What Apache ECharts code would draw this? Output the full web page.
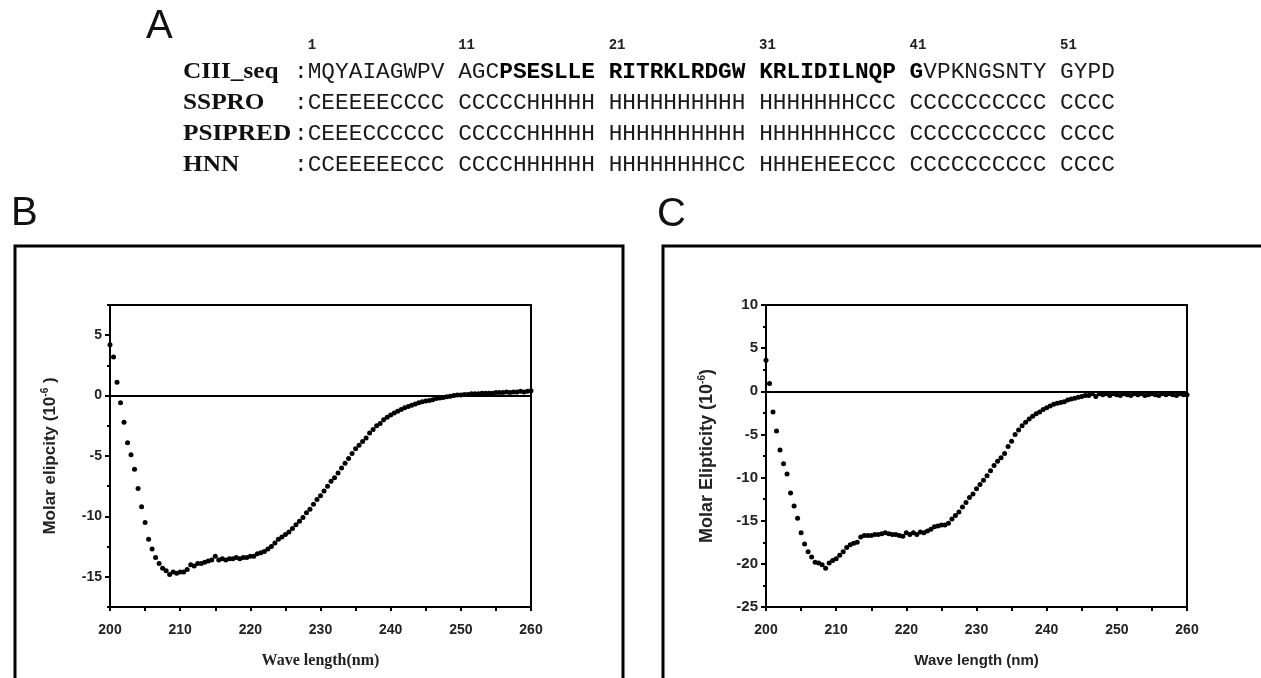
<!DOCTYPE html>
<html><head><meta charset="utf-8">
<script src="https://cdn.jsdelivr.net/npm/echarts@6/dist/echarts.min.js"></script>
<style>html,body{margin:0;padding:0;background:#fff}#c{width:1261px;height:678px}</style>
</head><body><div id="c"></div>
<script>
// ---------- Panel A data ----------
const rowLabels = ['CIII_seq', 'SSPRO', 'PSIPRED', 'HNN'];
const rowGroups = [
  ['MQYAIAGWPV', 'AGCPSESLLE', 'RITRKLRDGW', 'KRLIDILNQP', 'GVPKNGSNTY', 'GYPD'],
  ['CEEEEECCCC', 'CCCCCHHHHH', 'HHHHHHHHHH', 'HHHHHHHCCC', 'CCCCCCCCCC', 'CCCC'],
  ['CEEECCCCCC', 'CCCCCHHHHH', 'HHHHHHHHHH', 'HHHHHHHCCC', 'CCCCCCCCCC', 'CCCC'],
  ['CCEEEEECCC', 'CCCCHHHHHH', 'HHHHHHHHCC', 'HHHEHEECCC', 'CCCCCCCCCC', 'CCCC']
];
const positionLabels = ['1', '11', '21', '31', '41', '51'];
const boldRange = [14, 41]; // residues shown in bold in the sequence row

// ---------- CD spectra data ----------
const wavelengths = [200,200.5,201,201.5,202,202.5,203,203.5,204,204.5,205,205.5,206,206.5,207,207.5,208,208.5,209,209.5,
210,210.5,211,211.5,212,212.5,213,213.5,214,214.5,215,215.5,216,216.5,217,217.5,218,218.5,219,219.5,
220,220.5,221,221.5,222,222.5,223,223.5,224,224.5,225,225.5,226,226.5,227,227.5,228,228.5,229,229.5,
230,230.5,231,231.5,232,232.5,233,233.5,234,234.5,235,235.5,236,236.5,237,237.5,238,238.5,239,239.5,
240,240.5,241,241.5,242,242.5,243,243.5,244,244.5,245,245.5,246,246.5,247,247.5,248,248.5,249,249.5,
250,250.5,251,251.5,252,252.5,253,253.5,254,254.5,255,255.5,256,256.5,257,257.5,258,258.5,259,259.5,260];

const ellipticityB = [4.2,3.2,1.1,-0.6,-2.2,-3.9,-4.9,-6.1,-7.7,-9.2,
-10.5,-11.9,-12.7,-13.4,-13.9,-14.3,-14.5,-14.8,-14.6,-14.7,
-14.6,-14.6,-14.4,-14.0,-14.1,-13.9,-13.9,-13.8,-13.7,-13.6,
-13.3,-13.6,-13.5,-13.6,-13.5,-13.5,-13.4,-13.5,-13.4,-13.4,
-13.3,-13.3,-13.1,-13.0,-12.9,-12.7,-12.5,-12.2,-11.9,-11.7,
-11.5,-11.3,-11.0,-10.7,-10.4,-10.1,-9.7,-9.4,-9.0,-8.6,
-8.3,-7.9,-7.5,-7.1,-6.8,-6.4,-6.0,-5.6,-5.2,-4.8,
-4.4,-4.1,-3.8,-3.5,-3.1,-2.8,-2.5,-2.3,-2.0,-1.8,
-1.6,-1.45,-1.3,-1.15,-1.0,-0.9,-0.8,-0.7,-0.6,-0.5,
-0.45,-0.4,-0.35,-0.25,-0.2,-0.15,-0.1,-0.05,0,0.05,
0.05,0.1,0.1,0.15,0.15,0.15,0.2,0.2,0.2,0.2,
0.25,0.25,0.25,0.3,0.25,0.3,0.3,0.35,0.3,0.35,0.4];

const ellipticityC = [3.6,0.9,-2.4,-4.6,-6.8,-8.4,-9.6,-11.8,-13.3,-14.7,
-16.4,-17.7,-18.6,-19.2,-19.8,-19.9,-20.1,-20.5,-19.9,-19.6,
-19.4,-19.0,-18.6,-18.1,-17.8,-17.6,-17.5,-16.9,-16.7,-16.7,
-16.7,-16.6,-16.6,-16.5,-16.4,-16.5,-16.6,-16.6,-16.7,-16.8,
-16.4,-16.6,-16.4,-16.6,-16.3,-16.4,-16.2,-16.0,-15.7,-15.6,
-15.5,-15.5,-15.3,-14.8,-14.4,-14.0,-13.4,-12.9,-12.3,-11.9,
-11.3,-10.8,-10.3,-9.8,-9.2,-8.6,-8.1,-7.7,-7.2,-6.4,
-5.8,-5.0,-4.5,-4.0,-3.6,-3.2,-2.9,-2.6,-2.4,-2.1,
-1.9,-1.7,-1.5,-1.4,-1.3,-1.2,-1.0,-0.9,-0.8,-0.7,
-0.6,-0.5,-0.5,-0.3,-0.6,-0.3,-0.4,-0.3,-0.5,-0.3,
-0.4,-0.5,-0.3,-0.4,-0.5,-0.3,-0.4,-0.3,-0.5,-0.4,
-0.3,-0.4,-0.5,-0.3,-0.4,-0.3,-0.4,-0.5,-0.3,-0.4,-0.4];

const xTicks = [200, 210, 220, 230, 240, 250, 260];
const yTicksB = [5, 0, -5, -10, -15];
const yMinorB = [7.5, 2.5, -2.5, -7.5, -12.5, -17.5];
const yTicksC = [10, 5, 0, -5, -10, -15, -20, -25];

// ---------- layout ----------
const monoSize = 22.8;
const charW = monoSize * 0.6;
const seqX = 294;
const rowY = [72, 103, 134, 165];
const monoFont = '"Liberation Mono", "DejaVu Sans Mono", monospace';
const serifFont = '"Liberation Serif", "DejaVu Serif", serif';
const sansFont = '"Liberation Sans", Arial, sans-serif';

const graphics = [];
// outer frames
graphics.push({type:'rect', shape:{x:15, y:246, width:608, height:480}, style:{fill:'none', stroke:'#000', lineWidth:3}, silent:true, z:0});
graphics.push({type:'rect', shape:{x:663, y:246, width:700, height:480}, style:{fill:'none', stroke:'#000', lineWidth:3}, silent:true, z:0});
// panel letters
[['A',146,27],['B',11,214],['C',657,215]].forEach(([t,x,y]) => {
  graphics.push({type:'text', x:x, y:y, style:{text:t, fontFamily:sansFont, fontSize:40, fontWeight:'normal', fill:'#111', verticalAlign:'middle', align:'left'}, silent:true});
});
// position numbers
positionLabels.forEach((p, g) => {
  graphics.push({type:'text', x:seqX + charW * (1 + g * 11), y:45, style:{text:p, fontFamily:monoFont, fontSize:14, fontWeight:'bold', fill:'#222', verticalAlign:'middle', align:'left'}, silent:true});
});
// rows
rowLabels.forEach((lab, r) => {
  graphics.push({type:'text', x:183, y:rowY[r], scaleX:1.1, style:{text:lab, fontFamily:serifFont, fontSize:23, fontWeight:'bold', fill:'#111', verticalAlign:'middle', align:'left'}, silent:true});
  let text;
  if (r === 0) {
    let segs = [];
    let cur = null, buf = '';
    let idx = 0;
    const chars = (':' + rowGroups[r].join(' ')).split('');
    chars.forEach((ch) => {
      let style = 'n';
      if (ch !== ' ' && ch !== ':') {
        idx += 1;
        style = (idx >= boldRange[0] && idx <= boldRange[1]) ? 'b' : 'n';
      } else if (ch === ' ') {
        style = (idx >= boldRange[0] && idx < boldRange[1]) ? 'b' : 'n';
      }
      if (style !== cur && buf) { segs.push('{' + cur + '|' + buf + '}'); buf = ''; }
      cur = style; buf += ch;
    });
    if (buf) segs.push('{' + cur + '|' + buf + '}');
    text = segs.join('');
  } else {
    text = '{n|:' + rowGroups[r].join(' ') + '}';
  }
  graphics.push({type:'text', x:seqX, y:rowY[r], style:{text:text, verticalAlign:'middle', align:'left',
    rich:{
      n:{fontFamily:monoFont, fontSize:monoSize, fontWeight:'normal', fill:'#1a1a1a', textStroke:'#1a1a1a', lineWidth:0.8},
      b:{fontFamily:monoFont, fontSize:monoSize, fontWeight:'bold', fill:'#000', textStroke:'#000', lineWidth:1}
    }}, silent:true});
});

const tickLabel = {fontFamily:sansFont, fontWeight:'bold', fontSize:14, color:'#222', margin:8};
const blk = {color:'#000', width:2};

function xAxisFor(gi, name, nameFont) {
  return {gridIndex:gi, type:'value', min:200, max:260, interval:10,
    axisLine:{onZero:false, lineStyle:blk},
    axisTick:{length:4, lineStyle:blk},
    minorTick:{show:true, splitNumber:2, length:4, lineStyle:blk},
    splitLine:{show:false}, minorSplitLine:{show:false},
    axisLabel:Object.assign({}, tickLabel, {margin:16, customValues:xTicks}),
    name:name, nameLocation:'middle', nameGap:46,
    nameTextStyle:nameFont};
}

const option = {
  animation:false,
  backgroundColor:'#fff',
  graphic:graphics,
  grid:[
    {left:110, top:305, width:421, height:302, show:true, borderColor:'#000', borderWidth:2, backgroundColor:'transparent'},
    {left:766, top:305, width:421, height:302, show:true, borderColor:'#000', borderWidth:2, backgroundColor:'transparent'}
  ],
  xAxis:[
    xAxisFor(0, 'Wave length(nm)', {fontFamily:serifFont, fontWeight:'bold', fontSize:16, color:'#222'}),
    xAxisFor(1, 'Wave length (nm)', {fontFamily:sansFont, fontWeight:'bold', fontSize:15, color:'#222'})
  ],
  yAxis:[
    {gridIndex:0, type:'value', min:-17.5, max:7.5, position:'left',
      axisLine:{onZero:false, lineStyle:blk},
      axisTick:{length:5, lineStyle:blk, customValues:yTicksB},
      axisLabel:Object.assign({}, tickLabel, {customValues:yTicksB}),
      splitLine:{show:false},
      name:'Molar elipcity (10{s|-6} )', nameLocation:'middle', nameGap:50,
      nameTextStyle:{fontFamily:sansFont, fontWeight:'bold', fontSize:17, color:'#222', lineHeight:20,
        rich:{s:{fontFamily:sansFont, fontWeight:'bold', fontSize:10, color:'#222', verticalAlign:'top', lineHeight:20}}}
    },
    {gridIndex:0, type:'value', min:-17.5, max:7.5, position:'left',
      axisLine:{show:false}, axisLabel:{show:false}, splitLine:{show:false},
      axisTick:{length:3, lineStyle:blk, customValues:yMinorB}
    },
    {gridIndex:1, type:'value', min:-25, max:10, interval:5, position:'left',
      axisLine:{onZero:false, lineStyle:blk},
      axisTick:{length:5, lineStyle:blk},
      minorTick:{show:true, splitNumber:2, length:3, lineStyle:blk},
      minorSplitLine:{show:false},
      axisLabel:Object.assign({}, tickLabel, {fontSize:15, customValues:yTicksC}),
      splitLine:{show:false},
      name:'Molar Elipticity (10{s|-6})', nameLocation:'middle', nameGap:48,
      nameTextStyle:{fontFamily:sansFont, fontWeight:'bold', fontSize:18, color:'#222', lineHeight:21,
        rich:{s:{fontFamily:sansFont, fontWeight:'bold', fontSize:10, color:'#222', verticalAlign:'top', lineHeight:21}}}
    }
  ],
  series:[
    {type:'scatter', xAxisIndex:0, yAxisIndex:0, symbolSize:5, itemStyle:{color:'#000', opacity:1},
      data:wavelengths.map((w, i) => [w, ellipticityB[i]]),
      markLine:{silent:true, symbol:'none', label:{show:false}, lineStyle:{color:'#000', width:2, type:'solid', opacity:1}, data:[{yAxis:0}]}
    },
    {type:'scatter', xAxisIndex:1, yAxisIndex:2, symbolSize:5, itemStyle:{color:'#000', opacity:1},
      data:wavelengths.map((w, i) => [w, ellipticityC[i]]),
      markLine:{silent:true, symbol:'none', label:{show:false}, lineStyle:{color:'#000', width:2, type:'solid', opacity:1}, data:[{yAxis:0}]}
    }
  ]
};
const chart = echarts.init(document.getElementById('c'));
chart.setOption(option);
</script>
</body></html>
